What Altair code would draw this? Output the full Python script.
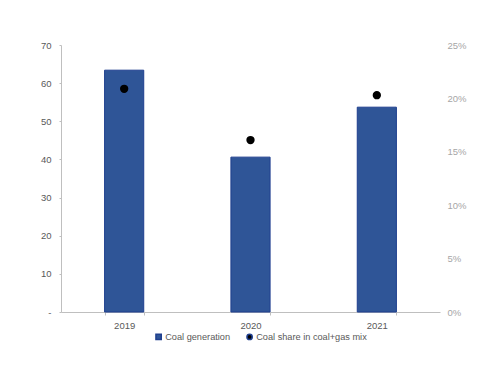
import altair as alt
import pandas as pd

years = ["2019", "2020", "2021"]
coal_generation = [63.4, 40.6, 53.7]
coal_share = [0.209, 0.161, 0.203]
series = ["Coal generation", "Coal share in coal+gas mix"]

df = pd.DataFrame({
    "year": years,
    "gen": coal_generation,
    "share": coal_share,
    "s_bar": [series[0]] * 3,
    "s_pt": [series[1]] * 3,
})

FONT = "Liberation Sans"
GRAY = "#595959"

color_scale = alt.Scale(domain=series, range=["#2F5597", "#000000"])
shape_scale = alt.Scale(domain=series, range=["square", "circle"])

x = alt.X("year:N", title=None,
          scale=alt.Scale(paddingInner=0.69, paddingOuter=0.345),
          axis=alt.Axis(labelAngle=0, tickBand="extent", ticks=True, tickSize=3,
                        tickColor="#bfbfbf", domainColor="#bfbfbf",
                        labelColor=GRAY, labelFont=FONT, labelFontSize=9.5, labelPadding=5))

bars = alt.Chart(df).mark_bar(stroke="#1F3F8F", strokeWidth=1).encode(
    x=x,
    y=alt.Y("gen:Q", title=None,
            scale=alt.Scale(domain=[0, 70]),
            axis=alt.Axis(values=[0, 10, 20, 30, 40, 50, 60, 70], grid=False,
                          ticks=True, tickSize=2, tickColor="#bfbfbf",
                          domainColor="#bfbfbf", labelColor=GRAY, labelFont=FONT,
                          labelFontSize=9.5, labelPadding=8,
                          labelExpr="datum.value == 0 ? '-' : datum.label")),
    color=alt.Color("s_bar:N", scale=color_scale, title=None,
                    legend=alt.Legend(orient="none", legendX=93, legendY=287,
                                      direction="horizontal",
                                      labelFont=FONT, labelFontSize=9.2, labelColor=GRAY,
                                      symbolSize=28, columnPadding=12,
                                      labelOffset=2)),
)

points = alt.Chart(df).mark_point(filled=True, size=40, opacity=1, stroke="#000000").encode(
    x=x,
    y=alt.Y("share:Q", title=None,
            scale=alt.Scale(domain=[0, 0.25]),
            axis=alt.Axis(orient="right", values=[0, 0.05, 0.1, 0.15, 0.2, 0.25],
                          format="0%", grid=False, domain=False, ticks=False,
                          labelColor="#a6a6a6", labelFont=FONT, labelFontSize=9.5,
                          labelPadding=7)),
    color=alt.Color("s_pt:N", scale=color_scale, title=None),
    shape=alt.Shape("s_pt:N", scale=shape_scale, title=None),
)

chart = alt.layer(bars, points).resolve_scale(y="independent").properties(
    width=379, height=267,
    autosize=alt.AutoSizeParams(type="none"),
    padding={"left": 61, "top": 45, "right": 60, "bottom": 74},
    background="white",
).configure_view(stroke=None)

chart.save("out.html", embed_options={"renderer": "svg", "actions": False})
